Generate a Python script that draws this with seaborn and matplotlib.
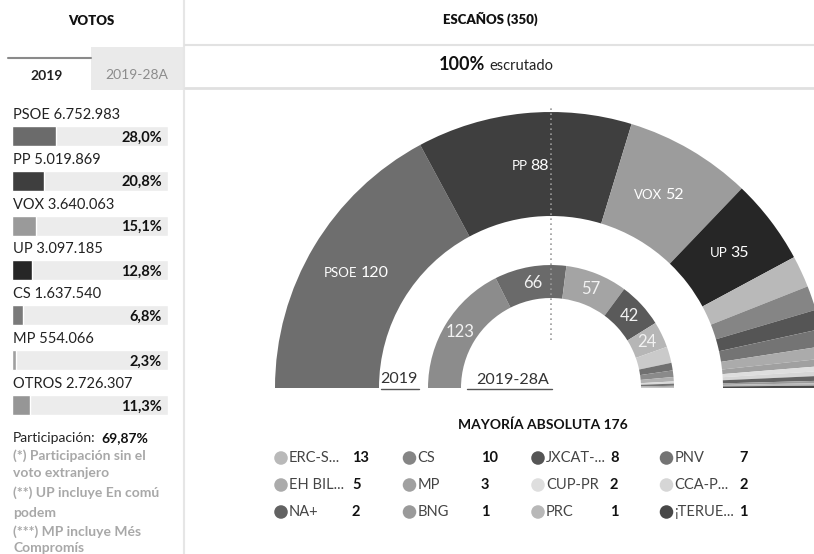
import matplotlib
matplotlib.use("Agg")
import matplotlib.pyplot as plt
import numpy as np
import seaborn as sns

W, H = 814, 554

# Votos (left panel)
vote_parties = ["PSOE", "PP", "VOX", "UP", "CS", "MP", "OTROS"]
vote_counts = ["6.752.983", "5.019.869", "3.640.063", "3.097.185", "1.637.540", "554.066", "2.726.307"]
vote_pcts = [28.0, 20.8, 15.1, 12.8, 6.8, 2.3, 11.3]
vote_colors = ["#6b6b6b", "#3e3e3e", "#9a9a9a", "#262626", "#7a7a7a", "#a0a0a0", "#969696"]

# Escaños 2019 (outer ring)
seat_parties = ["PSOE", "PP", "VOX", "UP", "ERC-S...", "CS", "JXCAT-...", "PNV",
                "EH BIL...", "MP", "CUP-PR", "CCA-P...", "NA+", "BNG", "PRC", "¡TERUE..."]
seats_2019 = [120, 88, 52, 35, 13, 10, 8, 7, 5, 3, 2, 2, 2, 1, 1, 1]
seat_colors = ["#6e6e6e", "#3f3f3f", "#9c9c9c", "#262626", "#b9b9b9", "#858585", "#555555", "#747474",
               "#ababab", "#a0a0a0", "#dedede", "#d6d6d6", "#626262", "#9a9a9a", "#b8b8b8", "#484848"]

# Escaños 2019-28A (inner ring)
parties_28a = ["PSOE", "PP", "CS", "UP", "VOX", "ERC", "JXCAT", "PNV", "EH BILDU", "CCA", "NA+", "MP", "PRC"]
seats_28a = [123, 66, 57, 42, 24, 15, 7, 6, 4, 2, 2, 1, 1]
colors_28a = ["#8c8c8c", "#6a6a6a", "#a4a4a4", "#5a5a5a", "#b6b6b6", "#cacaca", "#707070", "#8a8a8a",
              "#b0b0b0", "#dadada", "#727272", "#aaaaaa", "#c2c2c2"]

footnotes = ["(*) Participación sin el", "voto extranjero", "(**) UP incluye En comú",
             "podem", "(***) MP incluye Més", "Compromís"]

sns.set_theme(style="white")
plt.rcParams["font.family"] = ["Lato", "DejaVu Sans"]

fig = plt.figure(figsize=(W / 100, H / 100), dpi=100)
fig.patch.set_facecolor("white")

# page axes in pixel coordinates
ax = fig.add_axes([0, 0, 1, 1])
ax.set_xlim(0, W)
ax.set_ylim(H, 0)
ax.axis("off")

ax.plot([184, 184], [0, H], color="#e6e6e6", lw=1.5)
ax.plot([185, W], [45, 45], color="#e2e2e2", lw=1.5)
ax.plot([185, W], [88, 88], color="#e0e0e0", lw=2)
ax.text(91, 21, "VOTOS", ha="center", va="center", fontsize=9.5, fontweight="heavy", color="#111")
ax.text(490, 19, "ESCAÑOS (350)", ha="center", va="center", fontsize=9.5, fontweight="heavy", color="#111")
ax.text(485, 65, "100%", ha="right", va="center", fontsize=13, fontweight="bold", color="#111")
ax.text(489, 66, "escrutado", ha="left", va="center", fontsize=10.5, color="#222")

# tabs
ax.add_patch(plt.Rectangle((91, 47), 92, 43, color="#eaeaea", lw=0))
ax.plot([8, 91], [58, 58], color="#8a8a8a", lw=1.5)
ax.text(47, 76, "2019", ha="center", va="center", fontsize=10, fontweight="bold", color="#222")
ax.text(137, 75, "2019-28A", ha="center", va="center", fontsize=10, color="#8c8c8c")

# footnotes
ax.text(13, 438, "Participación:", ha="left", va="center", fontsize=10, color="#222")
ax.text(101, 438, "69,87%", ha="left", va="center", fontsize=10, fontweight="bold", color="#111")
for note, y in zip(footnotes, [456, 473, 493, 513, 532, 548]):
    ax.text(13, y, note, ha="left", va="center", fontsize=10, fontweight="bold", color="#a8a8a8")

# legend of small parties
ax.text(543, 425, "MAYORÍA ABSOLUTA 176", ha="center", va="center", fontsize=10,
        fontweight="bold", color="#111")
leg_names = seat_parties[4:]
leg_seats = seats_2019[4:]
leg_colors = seat_colors[4:]
dot_x, dot_y = [], []
for k, (name, s) in enumerate(zip(leg_names, leg_seats)):
    row, col = divmod(k, 4)
    x0 = 281 + 128.5 * col
    y0 = 458 + 27 * row
    dot_x.append(x0)
    dot_y.append(y0)
    ax.text(x0 + 8, y0, name, ha="left", va="center", fontsize=10.5, color="#444")
    ax.text(352 + 129 * col, y0, str(s), ha="left", va="center", fontsize=10.5,
            fontweight="bold", color="#111")
ax.scatter(dot_x, dot_y, s=95, c=leg_colors, linewidths=0, zorder=3)

# underlined ring labels
ax.text(399, 379, "2019", ha="center", va="center", fontsize=11.5, color="#333")
ax.plot([381, 419], [389, 389], color="#555", lw=1)
ax.text(513, 380, "2019-28A", ha="center", va="center", fontsize=11.5, color="#333")
ax.plot([467, 552], [389, 389], color="#555", lw=1)

# vote bars
top, bottom = 136 - 44.83, 405 + 22.4
ax_b = fig.add_axes([12 / W, (H - bottom) / H, 156 / W, (bottom - top) / H])
sns.barplot(x=[100] * len(vote_parties), y=vote_parties, color="#ececec", width=0.446,
            saturation=1, ax=ax_b)
sns.barplot(x=vote_pcts, y=vote_parties, hue=vote_parties, palette=vote_colors, width=0.446,
            saturation=1, legend=False, ax=ax_b)
ax_b.set_xlim(0, 100)
ax_b.set_ylim(6.5, -1)
ax_b.axis("off")
ax_b.patch.set_alpha(0)
for i, (p, n, pct) in enumerate(zip(vote_parties, vote_counts, vote_pcts)):
    ax_b.text(0.5, i - 0.47, f"{p} {n}", ha="left", va="center", fontsize=10.5, color="#222")
    ax_b.text(96, i + 0.03, f"{pct:.1f}%".replace(".", ","), ha="right", va="center",
              fontsize=10.5, fontweight="bold", color="#111")

# hemicycle
cx, cy, R, R_in = 551, 388, 276, 172
ax_p = fig.add_axes([(cx - R) / W, (H - cy - R) / H, 2 * R / W, 2 * R / H])
total = sum(seats_2019)
ax_p.pie(seats_2019 + [total], colors=seat_colors + ["none"], startangle=180, counterclock=False,
         radius=1, wedgeprops=dict(width=(R - R_in) / R, linewidth=0))
r2_out, r2_in = 123, 90
ax_p.pie(seats_28a + [total], colors=colors_28a + ["none"], startangle=180, counterclock=False,
         radius=r2_out / R, wedgeprops=dict(width=(r2_out - r2_in) / R, linewidth=0))
ax_p.set_xlim(-1, 1)
ax_p.set_ylim(-1, 1)
ax_p.axis("off")


def mid_angles(vals):
    starts = np.cumsum([0] + vals[:-1])
    return [np.pi * (1 - (s + v / 2) / total) for s, v in zip(starts, vals)]


r_lab = 0.81
for name, v, a in list(zip(seat_parties, seats_2019, mid_angles(seats_2019)))[:4]:
    x, y = r_lab * np.cos(a), r_lab * np.sin(a)
    ax_p.annotate(name, (x, y), xytext=(-1, 0), textcoords="offset points", ha="right",
                  va="center", fontsize=9.5, color="white")
    ax_p.annotate(str(v), (x, y), xytext=(1, 0), textcoords="offset points", ha="left",
                  va="center", fontsize=11.5, color="white")

r_lab2 = (r2_out + r2_in) / 2 / R
for v, a in list(zip(seats_28a, mid_angles(seats_28a)))[:5]:
    ax_p.text(r_lab2 * np.cos(a), r_lab2 * np.sin(a), str(v), ha="center", va="center",
              fontsize=12, color="#f2f2f2")

ax_p.plot([0, 0], [(cy - 340) / R, (cy - 106) / R], color="#9a9a9a", lw=1.2,
          linestyle=(0, (1, 2)), clip_on=False, zorder=5)

fig.savefig("out.png", dpi=100, facecolor="white")
